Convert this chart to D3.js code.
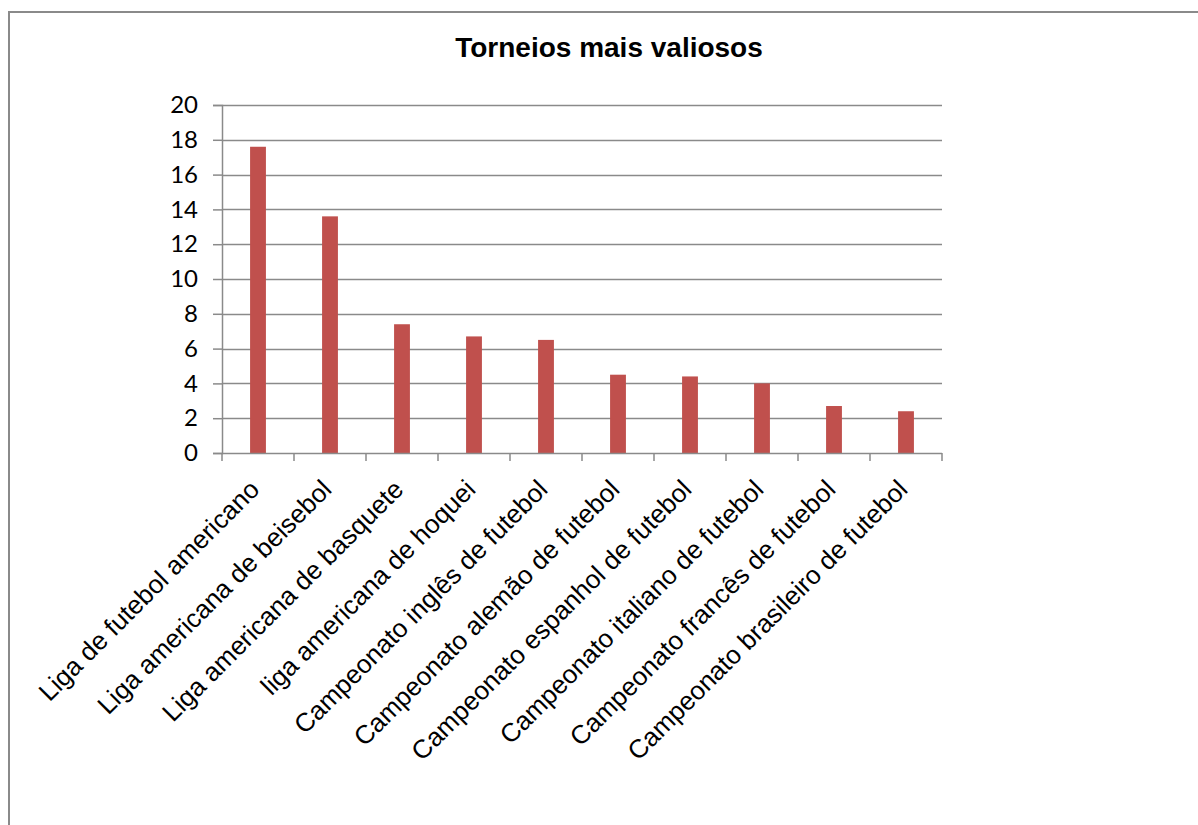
<!DOCTYPE html>
<html>
<head>
<meta charset="utf-8">
<script src="https://cdn.jsdelivr.net/npm/d3@7"></script>
<style>
  body { margin: 0; background: #fff; }
  svg { display: block; }
</style>
</head>
<body>
<svg id="chart" width="1198" height="825"></svg>
<script>
// data
var categories = [
  "Liga de futebol americano",
  "Liga americana de beisebol",
  "Liga americana de basquete",
  "liga americana de hoquei",
  "Campeonato inglês de futebol",
  "Campeonato alemão de futebol",
  "Campeonato espanhol de futebol",
  "Campeonato italiano de futebol",
  "Campeonato francês de futebol",
  "Campeonato brasileiro de futebol"
];
var values = [17.6, 13.6, 7.4, 6.7, 6.5, 4.5, 4.4, 4.0, 2.7, 2.4];
var yTicks = [0, 2, 4, 6, 8, 10, 12, 14, 16, 18, 20];
var chartTitle = "Torneios mais valiosos";

var svg = d3.select("#chart");

var plotLeft = 222,
    plotRight = 942,
    plotTop = 105,
    plotBottom = 453,
    gridColor = "#8a8a8a",
    barColor = "#c0504d",
    labelFont = "Liberation Sans, Arial, sans-serif";

// outer chart frame (right and bottom edges fall outside the picture)
svg.append("rect")
  .attr("x", 9)
  .attr("y", 12)
  .attr("width", 1260)
  .attr("height", 900)
  .attr("fill", "none")
  .attr("stroke", gridColor)
  .attr("stroke-width", 2);

svg.append("text")
  .attr("x", 609)
  .attr("y", 57)
  .attr("text-anchor", "middle")
  .style("font-family", labelFont)
  .style("font-weight", "bold")
  .style("font-size", "28px")
  .attr("fill", "#000")
  .text(chartTitle);

var x = d3.scaleBand()
  .domain(categories)
  .range([plotLeft, plotRight])
  .paddingInner(0)
  .paddingOuter(0);

var y = d3.scaleLinear()
  .domain([0, 20])
  .range([plotBottom, plotTop]);

// gridlines
svg.append("g")
  .selectAll("line")
  .data(yTicks.filter(function(d){ return d > 0; }))
  .enter().append("line")
  .attr("x1", plotLeft)
  .attr("x2", plotRight)
  .attr("y1", function(d){ return Math.round(y(d)) + 0.5; })
  .attr("y2", function(d){ return Math.round(y(d)) + 0.5; })
  .attr("stroke", gridColor)
  .attr("stroke-width", 1.5);

// bars
var barW = x.bandwidth() * 0.22;
svg.append("g")
  .selectAll("rect")
  .data(values)
  .enter().append("rect")
  .attr("x", function(d, i){ return x(categories[i]) + x.bandwidth()/2 - barW/2; })
  .attr("y", function(d){ return y(d); })
  .attr("width", barW)
  .attr("height", function(d){ return y(0) - y(d); })
  .attr("fill", barColor);

// y axis
var yAxis = svg.append("g")
  .attr("transform", "translate(" + plotLeft + ",0)")
  .call(d3.axisLeft(y).tickValues(yTicks).tickSize(9).tickPadding(15).tickFormat(d3.format("d")));
yAxis.select(".domain").attr("stroke", gridColor).attr("stroke-width", 1.5);
yAxis.selectAll(".tick line").attr("stroke", gridColor).attr("stroke-width", 1.5);
yAxis.selectAll(".tick text")
  .style("font-family", "Lato, 'Open Sans', sans-serif")
  .style("font-size", "24px")
  .attr("fill", "#000");

// x axis: ticks on band edges
var xAxisG = svg.append("g")
  .attr("transform", "translate(0," + plotBottom + ")");
xAxisG.append("line")
  .attr("x1", plotLeft)
  .attr("x2", plotRight)
  .attr("y1", 0.5)
  .attr("y2", 0.5)
  .attr("stroke", gridColor)
  .attr("stroke-width", 1.5);
var edges = categories.map(function(c){ return x(c); }).concat([plotRight]);
xAxisG.selectAll("line.edge")
  .data(edges)
  .enter().append("line")
  .attr("class", "edge")
  .attr("x1", function(d){ return d; })
  .attr("x2", function(d){ return d; })
  .attr("y1", 0)
  .attr("y2", 8)
  .attr("stroke", gridColor)
  .attr("stroke-width", 1.5);

// rotated category labels
xAxisG.selectAll("text")
  .data(categories)
  .enter().append("text")
  .attr("transform", function(d){
    var cx = x(d) + x.bandwidth()/2 + 3;
    return "translate(" + cx + ",38) rotate(-45)";
  })
  .attr("text-anchor", "end")
  .style("font-family", labelFont)
  .style("font-size", "26px")
  .attr("fill", "#000")
  .text(function(d){ return d; });
</script>
</body>
</html>
